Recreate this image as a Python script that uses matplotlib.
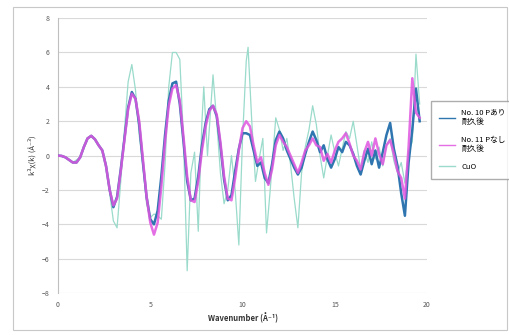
import matplotlib
matplotlib.use("Agg")
import matplotlib.pyplot as plt
from matplotlib.patches import Rectangle

plt.rcParams['font.family'] = ['Noto Sans CJK JP', 'DejaVu Sans']

# wavenumber grid for the two sample curves
k = [round(0.2 * i, 1) for i in range(99)]

no10 = [0.0, -0.02, -0.1, -0.25, -0.4, -0.4, -0.1, 0.5, 1.0, 1.15,
        0.95, 0.6, 0.3, -0.6, -2.0, -3.0, -2.4, -0.8, 1.0, 2.8,
        3.7, 3.3, 1.8, -0.4, -2.4, -3.7, -4.0, -3.2, -1.2, 1.2,
        3.2, 4.2, 4.3, 3.0, 0.8, -1.5, -2.6, -2.5, -1.2, 0.6,
        1.9, 2.7, 2.9, 2.3, 0.6, -1.4, -2.6, -2.3, -0.9, 0.4,
        1.3, 1.3, 1.2, 0.3, -0.6, -0.4, -1.3, -1.6, -0.5, 0.9,
        1.4, 1.0, 0.3, -0.2, -0.7, -1.1, -0.7, 0.1, 0.8, 1.4,
        0.9, 0.2, 0.6, -0.2, -0.7, -0.2, 0.5, 0.2, 0.8, 0.6,
        0.1, -0.6, -1.1, -0.3, 0.4, -0.5, 0.3, -0.7, 0.2, 1.2,
        1.9, 0.4, -0.6, -2.2, -3.5, -0.4, 1.5, 3.9, 2.0]

no11 = [0.0, -0.02, -0.1, -0.25, -0.4, -0.4, -0.1, 0.5, 1.0, 1.15,
        0.95, 0.6, 0.3, -0.6, -2.0, -2.9, -2.5, -0.9, 0.9, 2.7,
        3.6, 3.3, 2.0, -0.2, -2.4, -3.9, -4.6, -3.9, -1.8, 0.8,
        2.9, 3.9, 4.1, 3.2, 1.1, -1.2, -2.6, -2.7, -1.5, 0.3,
        1.7, 2.6, 2.9, 2.4, 0.8, -1.2, -2.5, -2.6, -1.3, 0.3,
        1.6, 2.0, 1.7, 0.6, -0.4, -0.1, -1.0, -1.7, -0.8, 0.6,
        1.2, 0.8, 0.5, 0.0, -0.5, -1.0, -0.4, 0.3, 0.6, 1.0,
        0.6, 0.5, -0.3, 0.1, -0.4, 0.3, 0.8, 1.0, 1.3, 0.7,
        0.0, -0.3, -0.8, 0.2, 0.8, 0.0, 1.0, 0.1, -0.5, 0.6,
        0.9, 0.1, -0.9, -1.3, -2.5, 0.5, 4.5, 2.5, 2.2]

k_cuo = [0.0, 0.4, 0.8, 1.2, 1.6, 1.8, 2.0, 2.4, 2.6, 2.8, 3.0, 3.2, 3.4,
         3.6, 3.8, 4.0, 4.2, 4.4, 4.6, 4.8, 5.0, 5.2, 5.4, 5.6, 5.8, 6.0,
         6.2, 6.4, 6.6, 6.8, 7.0, 7.2, 7.4, 7.6, 7.8, 7.9, 8.1, 8.4, 8.6,
         8.8, 9.0, 9.2, 9.4, 9.6, 9.8, 10.0, 10.2, 10.3, 10.5, 10.7, 10.9,
         11.1, 11.3, 11.5, 11.8, 12.0, 12.2, 12.4, 12.6, 12.8, 13.0, 13.2,
         13.4, 13.6, 13.8, 14.0, 14.2, 14.4, 14.6, 14.8, 15.0, 15.2, 15.4,
         15.6, 15.8, 16.0, 16.2, 16.4, 16.6, 16.8, 17.0, 17.2, 17.4, 17.6,
         17.8, 18.0, 18.2, 18.4, 18.6, 18.8, 19.0, 19.2, 19.4, 19.6]
cuo = [0.0, -0.1, -0.4, -0.1, 1.0, 1.15, 0.95, 0.3, -0.5, -2.2, -3.8, -4.2, -1.5,
       1.5, 4.3, 5.3, 3.8, 1.2, -0.6, -2.8, -3.6, -3.4, -3.5, -3.7, -0.5, 4.0,
       6.0, 6.0, 5.6, 1.0, -6.7, -1.0, 0.2, -4.4, 2.0, 4.0, 0.0, 4.7, 2.0,
       -1.0, -2.8, -2.0, 0.0, -2.0, -5.2, 1.0, 5.5, 6.3, 2.0, -1.5, -0.2,
       1.0, -4.5, -2.0, 2.2, 1.5, 0.3, 1.0, -0.5, -2.5, -4.2, -1.0,
       0.5, 1.5, 2.9, 1.8, 0.0, -1.3, 0.0, 1.2, 0.2, -0.6, 0.4,
       1.4, 1.0, 2.0, 0.6, -0.8, 0.3, -0.4, 0.8, -0.2, 0.5, -0.6,
       0.6, 1.0, -0.3, -1.0, -0.4, -1.6, 0.2, 0.8, 5.9, 3.0]

labels = ["No. 10 Pあり\n耐久後", "No. 11 Pなし\n耐久後", "CuO"]

fig = plt.figure(figsize=(5.09, 3.35), dpi=100)
fig.patches.append(Rectangle((0.026, 0.015), 0.97, 0.965, transform=fig.transFigure,
                             fill=False, edgecolor="#c8c8c8", linewidth=0.8))
ax = fig.add_axes([0.114, 0.125, 0.725, 0.821])

ax.plot(k_cuo, cuo, color="#9adbcb", linewidth=0.9, label=labels[2], zorder=2)
ax.plot(k, no10, color="#2f76b0", linewidth=1.8, label=labels[0], zorder=3)
ax.plot(k, no11, color="#e056e0", linewidth=1.8, label=labels[1], zorder=3, alpha=0.85)

ax.set_xlim(0, 20)
ax.set_ylim(-8, 8)
ax.set_xticks([0, 5, 10, 15, 20])
ax.set_yticks(range(-8, 9, 2))
ax.grid(axis="y", color="#d9d9d9", linewidth=0.8)
ax.set_axisbelow(True)
for s in ["top", "right", "bottom"]:
    ax.spines[s].set_visible(False)
ax.spines["left"].set_color("#bfbfbf")
ax.tick_params(axis="both", length=0, labelsize=5, colors="#555555", pad=6)
ax.set_xlabel("Wavenumber (Å⁻¹)", fontsize=5.5, color="#333333", labelpad=2,
              fontweight="bold")
ax.set_ylabel("k³χ(k) (Å⁻³)", fontsize=5.5, color="#333333", labelpad=4)

h, l = ax.get_legend_handles_labels()
order = [1, 2, 0]
leg = fig.legend([h[i] for i in order], [l[i] for i in order], loc="center left",
                 bbox_to_anchor=(0.839, 0.582), fontsize=5.5, frameon=True,
                 fancybox=False, edgecolor="#999999", handlelength=2.2,
                 labelspacing=1.3, borderpad=1.0)
for line in leg.get_lines():
    line.set_linewidth(1.0)

fig.savefig("out.png", dpi=100)
